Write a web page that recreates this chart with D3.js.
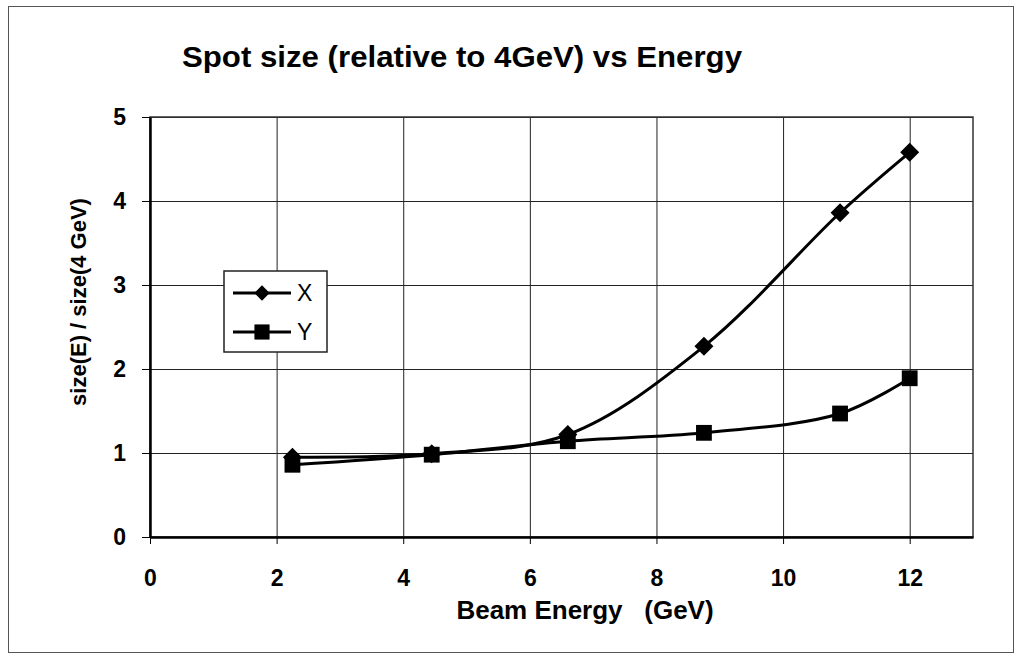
<!DOCTYPE html>
<html>
<head>
<meta charset="utf-8">
<script src="https://cdn.jsdelivr.net/npm/d3@7"></script>
<style>
  body { margin: 0; background: #fff; }
  svg text { font-family: "Liberation Sans", Arial, sans-serif; fill: #000; }
</style>
</head>
<body>
<svg id="chart"></svg>
<script>
const energies = [2.25, 4.45, 6.6, 8.75, 10.9, 12];
const xSeries = [0.95, 0.99, 1.22, 2.27, 3.86, 4.58];
const ySeries = [0.86, 0.98, 1.14, 1.24, 1.47, 1.89];
const seriesNames = ["X", "Y"];
const xTicks = [0, 2, 4, 6, 8, 10, 12];
const yTicks = [0, 1, 2, 3, 4, 5];

const width = 1019, height = 659;
const margin = { top: 117, right: 46, bottom: 122, left: 150 };

const svg = d3.select("#chart")
  .attr("width", width)
  .attr("height", height);

// outer frame
svg.append("rect")
  .attr("x", 8.5).attr("y", 6.5)
  .attr("width", 1005).attr("height", 646)
  .attr("fill", "none")
  .attr("stroke", "#555")
  .attr("stroke-width", 1);

const xScale = d3.scaleLinear()
  .domain([0, 13])
  .range([margin.left, width - margin.right]);

const yScale = d3.scaleLinear()
  .domain([0, 5])
  .range([height - margin.bottom, margin.top]);

// gridlines
svg.append("g")
  .attr("class", "x-grid")
  .attr("transform", `translate(0,${height - margin.bottom})`)
  .call(d3.axisBottom(xScale).tickValues(xTicks.slice(1)).tickSize(-(height - margin.bottom - margin.top)).tickFormat(""))
  .call(g => g.select(".domain").remove())
  .call(g => g.selectAll("line").attr("stroke", "#222").attr("stroke-width", 1));

svg.append("g")
  .attr("class", "y-grid")
  .attr("transform", `translate(${margin.left},0)`)
  .call(d3.axisLeft(yScale).tickValues(yTicks.slice(1)).tickSize(-(width - margin.left - margin.right)).tickFormat(""))
  .call(g => g.select(".domain").remove())
  .call(g => g.selectAll("line").attr("stroke", "#222").attr("stroke-width", 1));

// plot border (top and right)
svg.append("rect")
  .attr("x", margin.left).attr("y", margin.top)
  .attr("width", width - margin.left - margin.right)
  .attr("height", height - margin.top - margin.bottom)
  .attr("fill", "none")
  .attr("stroke", "#333")
  .attr("stroke-width", 1.5);

const xAxisGroup = svg.append("g")
  .attr("class", "x-axis")
  .attr("transform", `translate(0,${height - margin.bottom})`)
  .call(d3.axisBottom(xScale).tickValues(xTicks).tickFormat(d3.format("d")).tickSize(7).tickPadding(26).tickSizeOuter(0));

const yAxisGroup = svg.append("g")
  .attr("class", "y-axis")
  .attr("transform", `translate(${margin.left},0)`)
  .call(d3.axisLeft(yScale).tickValues(yTicks).tickFormat(d3.format("d")).tickSize(8).tickPadding(16).tickSizeOuter(0));

[xAxisGroup, yAxisGroup].forEach(g => {
  g.select(".domain").attr("stroke", "#000").attr("stroke-width", 2.5);
  g.selectAll(".tick line").attr("stroke", "#000").attr("stroke-width", 1);
  g.selectAll(".tick text")
    .attr("font-family", "'Liberation Sans', Arial, sans-serif")
    .attr("font-size", 23)
    .attr("font-weight", "bold")
    .attr("fill", "#000");
});

// title and axis labels
svg.append("text")
  .attr("x", 182).attr("y", 67)
  .attr("font-size", 29)
  .attr("font-weight", "bold")
  .attr("textLength", 560)
  .attr("lengthAdjust", "spacingAndGlyphs")
  .text("Spot size (relative to 4GeV) vs Energy");

svg.append("text")
  .attr("x", 585).attr("y", 619)
  .attr("text-anchor", "middle")
  .attr("font-size", 26)
  .attr("font-weight", "bold")
  .attr("xml:space", "preserve")
  .style("white-space", "pre")
  .text("Beam Energy   (GeV)");

svg.append("text")
  .attr("transform", "translate(86,302) rotate(-90)")
  .attr("text-anchor", "middle")
  .attr("font-size", 22)
  .attr("font-weight", "bold")
  .text("size(E) / size(4 GeV)");

// series
const line = d3.line()
  .x(d => xScale(d[0]))
  .y(d => yScale(d[1]))
  .curve(d3.curveCatmullRom.alpha(0.5));

const series = [
  { name: seriesNames[0], values: energies.map((e, i) => [e, xSeries[i]]), symbol: d3.symbolDiamond2, size: 230 },
  { name: seriesNames[1], values: energies.map((e, i) => [e, ySeries[i]]), symbol: d3.symbolSquare, size: 250 }
];

series.forEach(s => {
  svg.append("path")
    .datum(s.values)
    .attr("fill", "none")
    .attr("stroke", "#000")
    .attr("stroke-width", 3)
    .attr("d", line);
});

series.forEach(s => {
  svg.append("g")
    .selectAll("path")
    .data(s.values)
    .join("path")
    .attr("transform", d => `translate(${xScale(d[0])},${yScale(d[1])})`)
    .attr("d", d3.symbol().type(s.symbol).size(s.size)())
    .attr("fill", "#000");
});

// legend
const legend = svg.append("g").attr("transform", "translate(224,271)");
legend.append("rect")
  .attr("width", 103).attr("height", 81)
  .attr("fill", "#fff")
  .attr("stroke", "#222")
  .attr("stroke-width", 1.5);

series.forEach((s, i) => {
  const row = legend.append("g").attr("transform", `translate(0,${22 + i * 39})`);
  row.append("line")
    .attr("x1", 9).attr("x2", 67)
    .attr("stroke", "#000").attr("stroke-width", 3);
  row.append("path")
    .attr("transform", "translate(38,0)")
    .attr("d", d3.symbol().type(s.symbol).size(i === 0 ? 150 : 230)())
    .attr("fill", "#000");
  row.append("text")
    .attr("x", 73).attr("y", 8)
    .attr("font-size", 23)
    .text(s.name);
});
</script>
</body>
</html>
